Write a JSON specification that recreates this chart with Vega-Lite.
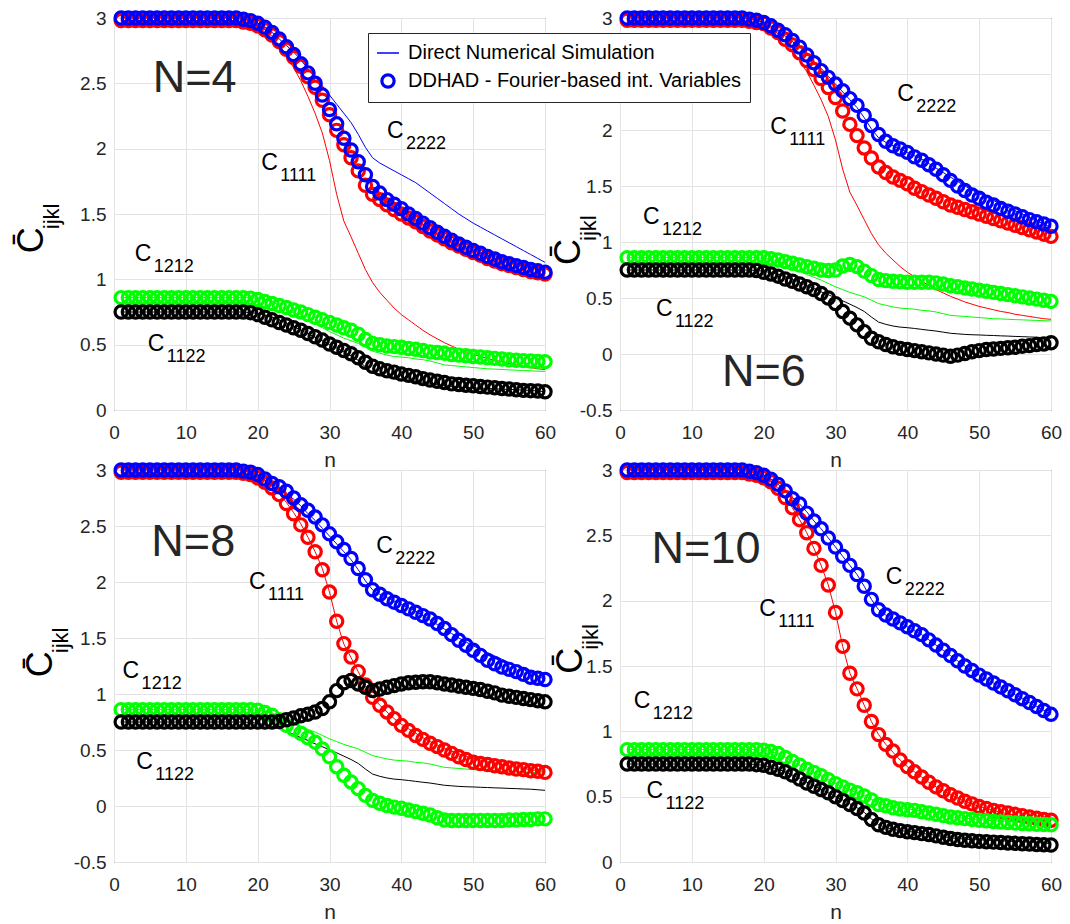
{
"$schema": "https://vega.github.io/schema/vega-lite/v6.json",
"background": "white",
"padding": {"left": 13, "top": 4, "right": 5, "bottom": 2},
"config": {
  "view": {"stroke": "#262626", "strokeWidth": 1},
  "axis": {"labelFont": "Liberation Sans", "labelFontSize": 19, "labelColor": "#262626", "titleFont": "Liberation Sans", "titleFontSize": 21, "titleFontWeight": "normal", "titleColor": "#262626", "gridColor": "#e3e3e3", "gridWidth": 1, "domain": false, "ticks": false, "labelFlush": false, "labelOverlap": false},
  "text": {"font": "Liberation Sans"}
},
"datasets": {
"dns": [
{"n":1,"a":2.98,"b":3,"c":0.86,"d":0.75},{"n":2,"a":2.98,"b":3,"c":0.86,"d":0.75},{"n":3,"a":2.98,"b":3,"c":0.86,"d":0.75},{"n":4,"a":2.98,"b":3,"c":0.86,"d":0.75},{"n":5,"a":2.98,"b":3,"c":0.86,"d":0.75},{"n":6,"a":2.98,"b":3,"c":0.86,"d":0.75},{"n":7,"a":2.98,"b":3,"c":0.86,"d":0.75},{"n":8,"a":2.98,"b":3,"c":0.86,"d":0.75},{"n":9,"a":2.98,"b":3,"c":0.86,"d":0.75},{"n":10,"a":2.98,"b":3,"c":0.86,"d":0.75},
{"n":11,"a":2.98,"b":3,"c":0.86,"d":0.75},{"n":12,"a":2.98,"b":3,"c":0.86,"d":0.75},{"n":13,"a":2.98,"b":3,"c":0.86,"d":0.75},{"n":14,"a":2.98,"b":3,"c":0.86,"d":0.75},{"n":15,"a":2.98,"b":3,"c":0.86,"d":0.75},{"n":16,"a":2.98,"b":3,"c":0.86,"d":0.75},{"n":17,"a":2.98,"b":3,"c":0.86,"d":0.75},{"n":18,"a":2.97,"b":2.99,"c":0.86,"d":0.75},{"n":19,"a":2.96,"b":2.98,"c":0.86,"d":0.745},{"n":20,"a":2.94,"b":2.96,"c":0.855,"d":0.74},
{"n":21,"a":2.91,"b":2.93,"c":0.845,"d":0.725},{"n":22,"a":2.86,"b":2.89,"c":0.83,"d":0.71},{"n":23,"a":2.79,"b":2.84,"c":0.8,"d":0.69},{"n":24,"a":2.71,"b":2.79,"c":0.77,"d":0.665},{"n":25,"a":2.62,"b":2.74,"c":0.74,"d":0.64},{"n":26,"a":2.52,"b":2.68,"c":0.71,"d":0.61},{"n":27,"a":2.4,"b":2.61,"c":0.685,"d":0.585},{"n":28,"a":2.27,"b":2.55,"c":0.66,"d":0.555},{"n":29,"a":2.12,"b":2.48,"c":0.63,"d":0.53},{"n":30,"a":1.91,"b":2.41,"c":0.6,"d":0.5},
{"n":31,"a":1.65,"b":2.34,"c":0.575,"d":0.475},{"n":32,"a":1.445,"b":2.27,"c":0.55,"d":0.445},{"n":33,"a":1.325,"b":2.2,"c":0.53,"d":0.415},{"n":34,"a":1.2,"b":2.11,"c":0.51,"d":0.38},{"n":35,"a":1.075,"b":2.01,"c":0.48,"d":0.33},{"n":36,"a":0.975,"b":1.93,"c":0.45,"d":0.285},{"n":37,"a":0.9,"b":1.89,"c":0.435,"d":0.265},{"n":38,"a":0.84,"b":1.86,"c":0.42,"d":0.25},{"n":39,"a":0.78,"b":1.83,"c":0.41,"d":0.24},{"n":40,"a":0.73,"b":1.8,"c":0.405,"d":0.235},
{"n":41,"a":0.69,"b":1.77,"c":0.4,"d":0.228},{"n":42,"a":0.65,"b":1.74,"c":0.39,"d":0.22},{"n":43,"a":0.61,"b":1.7,"c":0.385,"d":0.212},{"n":44,"a":0.575,"b":1.66,"c":0.375,"d":0.205},{"n":45,"a":0.545,"b":1.62,"c":0.36,"d":0.195},{"n":46,"a":0.515,"b":1.58,"c":0.345,"d":0.185},{"n":47,"a":0.49,"b":1.54,"c":0.34,"d":0.18},{"n":48,"a":0.465,"b":1.5,"c":0.335,"d":0.175},{"n":49,"a":0.445,"b":1.465,"c":0.33,"d":0.172},{"n":50,"a":0.425,"b":1.43,"c":0.325,"d":0.17},
{"n":51,"a":0.41,"b":1.4,"c":0.32,"d":0.167},{"n":52,"a":0.395,"b":1.37,"c":0.315,"d":0.165},{"n":53,"a":0.38,"b":1.34,"c":0.313,"d":0.162},{"n":54,"a":0.37,"b":1.31,"c":0.31,"d":0.16},{"n":55,"a":0.355,"b":1.28,"c":0.307,"d":0.157},{"n":56,"a":0.345,"b":1.25,"c":0.305,"d":0.155},{"n":57,"a":0.335,"b":1.22,"c":0.302,"d":0.152},{"n":58,"a":0.325,"b":1.19,"c":0.3,"d":0.15},{"n":59,"a":0.315,"b":1.16,"c":0.297,"d":0.145},{"n":60,"a":0.31,"b":1.13,"c":0.295,"d":0.14}
],
"n4": [
{"n":1,"a":2.98,"b":3,"c":0.86,"d":0.75},{"n":2,"a":2.98,"b":3,"c":0.86,"d":0.75},{"n":3,"a":2.98,"b":3,"c":0.86,"d":0.75},{"n":4,"a":2.98,"b":3,"c":0.86,"d":0.75},{"n":5,"a":2.98,"b":3,"c":0.86,"d":0.75},{"n":6,"a":2.98,"b":3,"c":0.86,"d":0.75},{"n":7,"a":2.98,"b":3,"c":0.86,"d":0.75},{"n":8,"a":2.98,"b":3,"c":0.86,"d":0.75},{"n":9,"a":2.98,"b":3,"c":0.86,"d":0.75},{"n":10,"a":2.98,"b":3,"c":0.86,"d":0.75},
{"n":11,"a":2.98,"b":3,"c":0.86,"d":0.75},{"n":12,"a":2.98,"b":3,"c":0.86,"d":0.75},{"n":13,"a":2.98,"b":3,"c":0.86,"d":0.75},{"n":14,"a":2.98,"b":3,"c":0.86,"d":0.75},{"n":15,"a":2.98,"b":3,"c":0.86,"d":0.75},{"n":16,"a":2.98,"b":3,"c":0.86,"d":0.75},{"n":17,"a":2.98,"b":3,"c":0.86,"d":0.75},{"n":18,"a":2.97,"b":2.99,"c":0.86,"d":0.75},{"n":19,"a":2.96,"b":2.98,"c":0.855,"d":0.745},{"n":20,"a":2.94,"b":2.96,"c":0.845,"d":0.73},
{"n":21,"a":2.91,"b":2.93,"c":0.83,"d":0.71},{"n":22,"a":2.87,"b":2.89,"c":0.815,"d":0.69},{"n":23,"a":2.82,"b":2.84,"c":0.8,"d":0.67},{"n":24,"a":2.76,"b":2.78,"c":0.785,"d":0.65},{"n":25,"a":2.7,"b":2.72,"c":0.765,"d":0.63},{"n":26,"a":2.63,"b":2.65,"c":0.75,"d":0.61},{"n":27,"a":2.55,"b":2.58,"c":0.73,"d":0.585},{"n":28,"a":2.47,"b":2.5,"c":0.71,"d":0.56},{"n":29,"a":2.37,"b":2.41,"c":0.69,"d":0.535},{"n":30,"a":2.26,"b":2.3,"c":0.67,"d":0.505},
{"n":31,"a":2.14,"b":2.19,"c":0.65,"d":0.48},{"n":32,"a":2.03,"b":2.08,"c":0.63,"d":0.455},{"n":33,"a":1.93,"b":1.99,"c":0.61,"d":0.43},{"n":34,"a":1.83,"b":1.9,"c":0.58,"d":0.4},{"n":35,"a":1.72,"b":1.8,"c":0.54,"d":0.365},{"n":36,"a":1.65,"b":1.71,"c":0.51,"d":0.335},{"n":37,"a":1.61,"b":1.66,"c":0.5,"d":0.315},{"n":38,"a":1.57,"b":1.61,"c":0.49,"d":0.3},{"n":39,"a":1.535,"b":1.575,"c":0.485,"d":0.29},{"n":40,"a":1.5,"b":1.54,"c":0.48,"d":0.275},
{"n":41,"a":1.47,"b":1.5,"c":0.47,"d":0.265},{"n":42,"a":1.44,"b":1.465,"c":0.465,"d":0.255},{"n":43,"a":1.405,"b":1.43,"c":0.455,"d":0.24},{"n":44,"a":1.37,"b":1.395,"c":0.445,"d":0.23},{"n":45,"a":1.34,"b":1.36,"c":0.44,"d":0.22},{"n":46,"a":1.31,"b":1.33,"c":0.435,"d":0.21},{"n":47,"a":1.28,"b":1.3,"c":0.425,"d":0.2},{"n":48,"a":1.255,"b":1.27,"c":0.42,"d":0.195},{"n":49,"a":1.23,"b":1.245,"c":0.415,"d":0.19},{"n":50,"a":1.205,"b":1.22,"c":0.41,"d":0.185},
{"n":51,"a":1.185,"b":1.2,"c":0.405,"d":0.18},{"n":52,"a":1.16,"b":1.175,"c":0.4,"d":0.175},{"n":53,"a":1.14,"b":1.155,"c":0.395,"d":0.17},{"n":54,"a":1.12,"b":1.135,"c":0.39,"d":0.165},{"n":55,"a":1.105,"b":1.12,"c":0.385,"d":0.16},{"n":56,"a":1.09,"b":1.105,"c":0.38,"d":0.155},{"n":57,"a":1.075,"b":1.09,"c":0.378,"d":0.15},{"n":58,"a":1.06,"b":1.075,"c":0.375,"d":0.148},{"n":59,"a":1.05,"b":1.065,"c":0.372,"d":0.145},{"n":60,"a":1.04,"b":1.055,"c":0.37,"d":0.14}
],
"n6": [
{"n":1,"a":2.98,"b":3,"c":0.86,"d":0.75},{"n":2,"a":2.98,"b":3,"c":0.86,"d":0.75},{"n":3,"a":2.98,"b":3,"c":0.86,"d":0.75},{"n":4,"a":2.98,"b":3,"c":0.86,"d":0.75},{"n":5,"a":2.98,"b":3,"c":0.86,"d":0.75},{"n":6,"a":2.98,"b":3,"c":0.86,"d":0.75},{"n":7,"a":2.98,"b":3,"c":0.86,"d":0.75},{"n":8,"a":2.98,"b":3,"c":0.86,"d":0.75},{"n":9,"a":2.98,"b":3,"c":0.86,"d":0.75},{"n":10,"a":2.98,"b":3,"c":0.86,"d":0.75},
{"n":11,"a":2.98,"b":3,"c":0.86,"d":0.75},{"n":12,"a":2.98,"b":3,"c":0.86,"d":0.75},{"n":13,"a":2.98,"b":3,"c":0.86,"d":0.75},{"n":14,"a":2.98,"b":3,"c":0.86,"d":0.75},{"n":15,"a":2.98,"b":3,"c":0.86,"d":0.75},{"n":16,"a":2.98,"b":3,"c":0.86,"d":0.75},{"n":17,"a":2.98,"b":3,"c":0.86,"d":0.75},{"n":18,"a":2.97,"b":2.99,"c":0.86,"d":0.75},{"n":19,"a":2.96,"b":2.98,"c":0.86,"d":0.745},{"n":20,"a":2.95,"b":2.96,"c":0.86,"d":0.73},
{"n":21,"a":2.91,"b":2.93,"c":0.85,"d":0.715},{"n":22,"a":2.87,"b":2.89,"c":0.84,"d":0.695},{"n":23,"a":2.81,"b":2.85,"c":0.825,"d":0.67},{"n":24,"a":2.76,"b":2.8,"c":0.81,"d":0.65},{"n":25,"a":2.69,"b":2.74,"c":0.795,"d":0.625},{"n":26,"a":2.62,"b":2.67,"c":0.78,"d":0.6},{"n":27,"a":2.54,"b":2.6,"c":0.765,"d":0.575},{"n":28,"a":2.46,"b":2.53,"c":0.75,"d":0.54},{"n":29,"a":2.38,"b":2.47,"c":0.745,"d":0.5},{"n":30,"a":2.29,"b":2.41,"c":0.75,"d":0.45},
{"n":31,"a":2.17,"b":2.35,"c":0.785,"d":0.38},{"n":32,"a":2.05,"b":2.28,"c":0.8,"d":0.32},{"n":33,"a":1.95,"b":2.22,"c":0.78,"d":0.26},{"n":34,"a":1.84,"b":2.13,"c":0.74,"d":0.2},{"n":35,"a":1.75,"b":2.04,"c":0.7,"d":0.14},{"n":36,"a":1.67,"b":1.96,"c":0.665,"d":0.11},{"n":37,"a":1.62,"b":1.9,"c":0.655,"d":0.085},{"n":38,"a":1.58,"b":1.86,"c":0.65,"d":0.065},{"n":39,"a":1.55,"b":1.83,"c":0.645,"d":0.05},{"n":40,"a":1.52,"b":1.8,"c":0.64,"d":0.04},
{"n":41,"a":1.48,"b":1.76,"c":0.64,"d":0.03},{"n":42,"a":1.45,"b":1.73,"c":0.64,"d":0.02},{"n":43,"a":1.42,"b":1.69,"c":0.64,"d":0.01},{"n":44,"a":1.39,"b":1.65,"c":0.635,"d":0},{"n":45,"a":1.36,"b":1.6,"c":0.625,"d":-0.01},{"n":46,"a":1.33,"b":1.55,"c":0.61,"d":-0.02},{"n":47,"a":1.31,"b":1.5,"c":0.6,"d":-0.01},{"n":48,"a":1.29,"b":1.46,"c":0.59,"d":0.005},{"n":49,"a":1.27,"b":1.42,"c":0.58,"d":0.02},{"n":50,"a":1.25,"b":1.39,"c":0.57,"d":0.03},
{"n":51,"a":1.23,"b":1.355,"c":0.56,"d":0.04},{"n":52,"a":1.21,"b":1.33,"c":0.55,"d":0.045},{"n":53,"a":1.19,"b":1.3,"c":0.54,"d":0.05},{"n":54,"a":1.17,"b":1.275,"c":0.53,"d":0.055},{"n":55,"a":1.15,"b":1.25,"c":0.52,"d":0.06},{"n":56,"a":1.13,"b":1.225,"c":0.51,"d":0.07},{"n":57,"a":1.11,"b":1.2,"c":0.5,"d":0.075},{"n":58,"a":1.09,"b":1.18,"c":0.49,"d":0.085},{"n":59,"a":1.07,"b":1.16,"c":0.48,"d":0.09},{"n":60,"a":1.05,"b":1.14,"c":0.47,"d":0.1}
],
"n8": [
{"n":1,"a":2.98,"b":3,"c":0.86,"d":0.75},{"n":2,"a":2.98,"b":3,"c":0.86,"d":0.75},{"n":3,"a":2.98,"b":3,"c":0.86,"d":0.75},{"n":4,"a":2.98,"b":3,"c":0.86,"d":0.75},{"n":5,"a":2.98,"b":3,"c":0.86,"d":0.75},{"n":6,"a":2.98,"b":3,"c":0.86,"d":0.75},{"n":7,"a":2.98,"b":3,"c":0.86,"d":0.75},{"n":8,"a":2.98,"b":3,"c":0.86,"d":0.75},{"n":9,"a":2.98,"b":3,"c":0.86,"d":0.75},{"n":10,"a":2.98,"b":3,"c":0.86,"d":0.75},
{"n":11,"a":2.98,"b":3,"c":0.86,"d":0.75},{"n":12,"a":2.98,"b":3,"c":0.86,"d":0.75},{"n":13,"a":2.98,"b":3,"c":0.86,"d":0.75},{"n":14,"a":2.98,"b":3,"c":0.86,"d":0.75},{"n":15,"a":2.98,"b":3,"c":0.86,"d":0.75},{"n":16,"a":2.98,"b":3,"c":0.86,"d":0.75},{"n":17,"a":2.98,"b":3,"c":0.86,"d":0.75},{"n":18,"a":2.97,"b":2.99,"c":0.86,"d":0.75},{"n":19,"a":2.96,"b":2.98,"c":0.86,"d":0.75},{"n":20,"a":2.93,"b":2.96,"c":0.855,"d":0.75},
{"n":21,"a":2.89,"b":2.92,"c":0.835,"d":0.75},{"n":22,"a":2.84,"b":2.88,"c":0.81,"d":0.75},{"n":23,"a":2.78,"b":2.85,"c":0.77,"d":0.755},{"n":24,"a":2.7,"b":2.81,"c":0.72,"d":0.77},{"n":25,"a":2.61,"b":2.75,"c":0.685,"d":0.785},{"n":26,"a":2.51,"b":2.69,"c":0.65,"d":0.805},{"n":27,"a":2.4,"b":2.64,"c":0.61,"d":0.82},{"n":28,"a":2.27,"b":2.58,"c":0.57,"d":0.84},{"n":29,"a":2.11,"b":2.51,"c":0.51,"d":0.87},{"n":30,"a":1.91,"b":2.43,"c":0.44,"d":0.93},
{"n":31,"a":1.65,"b":2.36,"c":0.35,"d":1.03},{"n":32,"a":1.45,"b":2.29,"c":0.275,"d":1.1},{"n":33,"a":1.33,"b":2.21,"c":0.215,"d":1.12},{"n":34,"a":1.2,"b":2.12,"c":0.155,"d":1.09},{"n":35,"a":1.08,"b":2.02,"c":0.095,"d":1.06},{"n":36,"a":0.97,"b":1.93,"c":0.05,"d":1.03},{"n":37,"a":0.9,"b":1.89,"c":0.025,"d":1.045},{"n":38,"a":0.84,"b":1.85,"c":0.005,"d":1.06},{"n":39,"a":0.78,"b":1.82,"c":-0.01,"d":1.075},{"n":40,"a":0.72,"b":1.79,"c":-0.02,"d":1.09},
{"n":41,"a":0.675,"b":1.76,"c":-0.035,"d":1.1},{"n":42,"a":0.63,"b":1.73,"c":-0.05,"d":1.105},{"n":43,"a":0.595,"b":1.7,"c":-0.065,"d":1.11},{"n":44,"a":0.56,"b":1.67,"c":-0.08,"d":1.11},{"n":45,"a":0.53,"b":1.63,"c":-0.105,"d":1.1},{"n":46,"a":0.5,"b":1.585,"c":-0.125,"d":1.09},{"n":47,"a":0.47,"b":1.53,"c":-0.13,"d":1.08},{"n":48,"a":0.44,"b":1.48,"c":-0.13,"d":1.07},{"n":49,"a":0.415,"b":1.435,"c":-0.13,"d":1.06},{"n":50,"a":0.39,"b":1.39,"c":-0.13,"d":1.05},
{"n":51,"a":0.38,"b":1.345,"c":-0.13,"d":1.04},{"n":52,"a":0.37,"b":1.3,"c":-0.13,"d":1.025},{"n":53,"a":0.36,"b":1.27,"c":-0.13,"d":1.01},{"n":54,"a":0.35,"b":1.24,"c":-0.13,"d":0.99},{"n":55,"a":0.34,"b":1.22,"c":-0.125,"d":0.98},{"n":56,"a":0.33,"b":1.2,"c":-0.125,"d":0.97},{"n":57,"a":0.325,"b":1.175,"c":-0.12,"d":0.96},{"n":58,"a":0.315,"b":1.15,"c":-0.12,"d":0.95},{"n":59,"a":0.31,"b":1.14,"c":-0.115,"d":0.94},{"n":60,"a":0.3,"b":1.13,"c":-0.115,"d":0.93}
],
"n10": [
{"n":1,"a":2.98,"b":3,"c":0.86,"d":0.75},{"n":2,"a":2.98,"b":3,"c":0.86,"d":0.75},{"n":3,"a":2.98,"b":3,"c":0.86,"d":0.75},{"n":4,"a":2.98,"b":3,"c":0.86,"d":0.75},{"n":5,"a":2.98,"b":3,"c":0.86,"d":0.75},{"n":6,"a":2.98,"b":3,"c":0.86,"d":0.75},{"n":7,"a":2.98,"b":3,"c":0.86,"d":0.75},{"n":8,"a":2.98,"b":3,"c":0.86,"d":0.75},{"n":9,"a":2.98,"b":3,"c":0.86,"d":0.75},{"n":10,"a":2.98,"b":3,"c":0.86,"d":0.75},
{"n":11,"a":2.98,"b":3,"c":0.86,"d":0.75},{"n":12,"a":2.98,"b":3,"c":0.86,"d":0.75},{"n":13,"a":2.98,"b":3,"c":0.86,"d":0.75},{"n":14,"a":2.98,"b":3,"c":0.86,"d":0.75},{"n":15,"a":2.98,"b":3,"c":0.86,"d":0.75},{"n":16,"a":2.98,"b":3,"c":0.86,"d":0.75},{"n":17,"a":2.98,"b":3,"c":0.86,"d":0.75},{"n":18,"a":2.97,"b":2.99,"c":0.86,"d":0.75},{"n":19,"a":2.96,"b":2.98,"c":0.86,"d":0.745},{"n":20,"a":2.94,"b":2.96,"c":0.855,"d":0.74},
{"n":21,"a":2.91,"b":2.93,"c":0.845,"d":0.725},{"n":22,"a":2.86,"b":2.89,"c":0.83,"d":0.71},{"n":23,"a":2.79,"b":2.84,"c":0.8,"d":0.69},{"n":24,"a":2.71,"b":2.78,"c":0.77,"d":0.665},{"n":25,"a":2.62,"b":2.74,"c":0.74,"d":0.635},{"n":26,"a":2.52,"b":2.67,"c":0.71,"d":0.605},{"n":27,"a":2.4,"b":2.61,"c":0.685,"d":0.58},{"n":28,"a":2.27,"b":2.55,"c":0.66,"d":0.555},{"n":29,"a":2.12,"b":2.48,"c":0.63,"d":0.53},{"n":30,"a":1.91,"b":2.41,"c":0.6,"d":0.5},
{"n":31,"a":1.65,"b":2.34,"c":0.575,"d":0.47},{"n":32,"a":1.445,"b":2.27,"c":0.55,"d":0.44},{"n":33,"a":1.325,"b":2.2,"c":0.53,"d":0.41},{"n":34,"a":1.2,"b":2.11,"c":0.505,"d":0.375},{"n":35,"a":1.075,"b":2.01,"c":0.475,"d":0.325},{"n":36,"a":0.975,"b":1.93,"c":0.44,"d":0.285},{"n":37,"a":0.9,"b":1.89,"c":0.43,"d":0.265},{"n":38,"a":0.85,"b":1.86,"c":0.415,"d":0.25},{"n":39,"a":0.78,"b":1.83,"c":0.405,"d":0.24},{"n":40,"a":0.73,"b":1.8,"c":0.4,"d":0.232},
{"n":41,"a":0.69,"b":1.77,"c":0.395,"d":0.225},{"n":42,"a":0.65,"b":1.74,"c":0.385,"d":0.217},{"n":43,"a":0.61,"b":1.7,"c":0.375,"d":0.21},{"n":44,"a":0.575,"b":1.66,"c":0.365,"d":0.2},{"n":45,"a":0.545,"b":1.62,"c":0.355,"d":0.19},{"n":46,"a":0.515,"b":1.58,"c":0.345,"d":0.18},{"n":47,"a":0.49,"b":1.54,"c":0.338,"d":0.172},{"n":48,"a":0.465,"b":1.5,"c":0.332,"d":0.166},{"n":49,"a":0.445,"b":1.465,"c":0.326,"d":0.162},{"n":50,"a":0.425,"b":1.43,"c":0.32,"d":0.158},
{"n":51,"a":0.41,"b":1.4,"c":0.315,"d":0.155},{"n":52,"a":0.395,"b":1.37,"c":0.31,"d":0.152},{"n":53,"a":0.385,"b":1.34,"c":0.306,"d":0.149},{"n":54,"a":0.375,"b":1.31,"c":0.302,"d":0.146},{"n":55,"a":0.365,"b":1.28,"c":0.298,"d":0.143},{"n":56,"a":0.355,"b":1.25,"c":0.295,"d":0.14},{"n":57,"a":0.345,"b":1.22,"c":0.292,"d":0.137},{"n":58,"a":0.335,"b":1.19,"c":0.289,"d":0.134},{"n":59,"a":0.325,"b":1.16,"c":0.287,"d":0.132},{"n":60,"a":0.32,"b":1.13,"c":0.285,"d":0.13}
]
},
"columns": 2,
"spacing": {"row": 60, "column": 75},
"bounds": "flush",
"concat": [
{
 "width": 431, "height": 392,
 "encoding": {
  "x": {"field": "n", "type": "quantitative", "scale": {"domain": [0, 60], "nice": false, "zero": false}, "axis": {"values": [0,10,20,30,40,50,60], "title": "n", "labelPadding": 13, "titlePadding": 7}},
  "y": {"field": "v", "type": "quantitative", "scale": {"domain": [0, 3], "nice": false, "zero": false}, "axis": {"values": [0,0.5,1,1.5,2,2.5,3], "labelExpr": "datum.value + ''", "title": null, "labelPadding": 8}}
 },
 "layer": [
  {"data": {"name": "dns"}, "transform": [{"fold": ["a","b","c","d"], "as": ["k","v"]}],
   "mark": {"type": "line", "strokeWidth": 1},
   "encoding": {"color": {"field": "k", "type": "nominal", "scale": {"domain": ["a","b","c","d"], "range": ["#ff0000","#0000ff","#00ff00","#000000"]}, "legend": null}}},
  {"data": {"name": "n4"}, "transform": [{"fold": ["a","b","c","d"], "as": ["k","v"]}],
   "mark": {"type": "point", "filled": false, "opacity": 1},
   "encoding": {"color": {"field": "k", "type": "nominal", "legend": null}, "order": {"field": "k", "type": "ordinal"},
    "shape": {"datum": "DDHAD - Fourier-based int. Variables", "type": "nominal",
     "scale": {"domain": ["Direct Numerical Simulation", "DDHAD - Fourier-based int. Variables"], "range": ["stroke", "circle"]},
     "legend": {"orient": "none", "legendX": 254, "legendY": 15, "title": null, "labelFont": "Liberation Sans", "labelFontSize": 20, "labelColor": "#000000", "labelLimit": 600, "fillColor": "white", "strokeColor": "#262626", "padding": 8, "rowPadding": 5, "labelOffset": 8, "symbolStrokeColor": "#0000ff", "symbolFillColor": "transparent"}},
    "size": {"datum": "DDHAD - Fourier-based int. Variables", "type": "nominal",
     "scale": {"domain": ["Direct Numerical Simulation", "DDHAD - Fourier-based int. Variables"], "range": [484, 150]},
     "legend": {"orient": "none", "legendX": 254, "legendY": 15, "title": null, "labelFont": "Liberation Sans", "labelFontSize": 20, "labelColor": "#000000", "labelLimit": 600, "fillColor": "white", "strokeColor": "#262626", "padding": 8, "rowPadding": 5, "labelOffset": 8, "symbolStrokeColor": "#0000ff", "symbolFillColor": "transparent"}},
    "strokeWidth": {"datum": "DDHAD - Fourier-based int. Variables", "type": "nominal",
     "scale": {"domain": ["Direct Numerical Simulation", "DDHAD - Fourier-based int. Variables"], "range": [1.5, 3.2]},
     "legend": {"orient": "none", "legendX": 254, "legendY": 15, "title": null, "labelFont": "Liberation Sans", "labelFontSize": 20, "labelColor": "#000000", "labelLimit": 600, "fillColor": "white", "strokeColor": "#262626", "padding": 8, "rowPadding": 5, "labelOffset": 8, "symbolStrokeColor": "#0000ff", "symbolFillColor": "transparent"}}}},
  {"data": {"values": [{"n": 5.4, "v": 2.43, "t": "N=4"}]}, "mark": {"type": "text", "fontSize": 45, "align": "left", "baseline": "alphabetic", "color": "#262626"}, "encoding": {"text": {"field": "t"}}},
  {"data": {"values": [{"n": 20.5, "v": 1.84, "s": "1111"}, {"n": 38.0, "v": 2.08, "s": "2222"}, {"n": 2.9, "v": 1.14, "s": "1212"}, {"n": 4.7, "v": 0.45, "s": "1122"}]},
   "layer": [
    {"mark": {"type": "text", "text": "C", "fontSize": 23, "align": "left", "baseline": "alphabetic", "color": "#000000"}},
    {"mark": {"type": "text", "fontSize": 18, "align": "left", "baseline": "alphabetic", "color": "#000000", "dx": 19, "dy": 11}, "encoding": {"text": {"field": "s"}}}
   ]},
  {"data": {"values": [{"n": -9.9, "v": 1.2}]},
   "layer": [
    {"mark": {"type": "text", "text": "C\u0304", "fontSize": 36, "angle": 270, "align": "left", "baseline": "alphabetic", "color": "#000000"}},
    {"mark": {"type": "text", "text": "ijkl", "fontSize": 22, "angle": 270, "align": "left", "baseline": "alphabetic", "color": "#000000", "dx": 24, "dy": 16}}
   ]}
 ]
},
{
 "width": 431, "height": 392,
 "encoding": {
  "x": {"field": "n", "type": "quantitative", "scale": {"domain": [0, 60], "nice": false, "zero": false}, "axis": {"values": [0,10,20,30,40,50,60], "title": "n", "labelPadding": 13, "titlePadding": 7}},
  "y": {"field": "v", "type": "quantitative", "scale": {"domain": [-0.5, 3], "nice": false, "zero": false}, "axis": {"values": [-0.5,0,0.5,1,1.5,2,2.5,3], "labelExpr": "datum.value + ''", "title": null, "labelPadding": 8}}
 },
 "layer": [
  {"data": {"name": "dns"}, "transform": [{"fold": ["a","b","c","d"], "as": ["k","v"]}],
   "mark": {"type": "line", "strokeWidth": 1},
   "encoding": {"color": {"field": "k", "type": "nominal", "scale": {"domain": ["a","b","c","d"], "range": ["#ff0000","#0000ff","#00ff00","#000000"]}, "legend": null}}},
  {"data": {"name": "n6"}, "transform": [{"fold": ["a","b","c","d"], "as": ["k","v"]}],
   "mark": {"type": "point", "filled": false, "size": 150, "strokeWidth": 3.2, "opacity": 1},
   "encoding": {"color": {"field": "k", "type": "nominal", "legend": null}, "order": {"field": "k", "type": "ordinal"}}},
  {"data": {"values": [{"n": 14.2, "v": -0.29, "t": "N=6"}]}, "mark": {"type": "text", "fontSize": 45, "align": "left", "baseline": "alphabetic", "color": "#262626"}, "encoding": {"text": {"field": "t"}}},
  {"data": {"values": [{"n": 20.9, "v": 1.96, "s": "1111"}, {"n": 38.6, "v": 2.26, "s": "2222"}, {"n": 3.2, "v": 1.16, "s": "1212"}, {"n": 5.0, "v": 0.34, "s": "1122"}]},
   "layer": [
    {"mark": {"type": "text", "text": "C", "fontSize": 23, "align": "left", "baseline": "alphabetic", "color": "#000000"}},
    {"mark": {"type": "text", "fontSize": 18, "align": "left", "baseline": "alphabetic", "color": "#000000", "dx": 19, "dy": 11}, "encoding": {"text": {"field": "s"}}}
   ]},
  {"data": {"values": [{"n": -5.6, "v": 0.795}]},
   "layer": [
    {"mark": {"type": "text", "text": "C\u0304", "fontSize": 36, "angle": 270, "align": "left", "baseline": "alphabetic", "color": "#000000"}},
    {"mark": {"type": "text", "text": "ijkl", "fontSize": 22, "angle": 270, "align": "left", "baseline": "alphabetic", "color": "#000000", "dx": 24, "dy": 16}}
   ]}
 ]
},
{
 "width": 431, "height": 392,
 "encoding": {
  "x": {"field": "n", "type": "quantitative", "scale": {"domain": [0, 60], "nice": false, "zero": false}, "axis": {"values": [0,10,20,30,40,50,60], "title": "n", "labelPadding": 13, "titlePadding": 7}},
  "y": {"field": "v", "type": "quantitative", "scale": {"domain": [-0.5, 3], "nice": false, "zero": false}, "axis": {"values": [-0.5,0,0.5,1,1.5,2,2.5,3], "labelExpr": "datum.value + ''", "title": null, "labelPadding": 8}}
 },
 "layer": [
  {"data": {"name": "dns"}, "transform": [{"fold": ["a","b","c","d"], "as": ["k","v"]}],
   "mark": {"type": "line", "strokeWidth": 1},
   "encoding": {"color": {"field": "k", "type": "nominal", "scale": {"domain": ["a","b","c","d"], "range": ["#ff0000","#0000ff","#00ff00","#000000"]}, "legend": null}}},
  {"data": {"name": "n8"}, "transform": [{"fold": ["a","b","c","d"], "as": ["k","v"]}],
   "mark": {"type": "point", "filled": false, "size": 150, "strokeWidth": 3.2, "opacity": 1},
   "encoding": {"color": {"field": "k", "type": "nominal", "legend": null}, "order": {"field": "k", "type": "ordinal"}}},
  {"data": {"values": [{"n": 5.2, "v": 2.23, "t": "N=8"}]}, "mark": {"type": "text", "fontSize": 45, "align": "left", "baseline": "alphabetic", "color": "#262626"}, "encoding": {"text": {"field": "t"}}},
  {"data": {"values": [{"n": 18.8, "v": 1.94, "s": "1111"}, {"n": 36.5, "v": 2.26, "s": "2222"}, {"n": 1.2, "v": 1.14, "s": "1212"}, {"n": 3.1, "v": 0.33, "s": "1122"}]},
   "layer": [
    {"mark": {"type": "text", "text": "C", "fontSize": 23, "align": "left", "baseline": "alphabetic", "color": "#000000"}},
    {"mark": {"type": "text", "fontSize": 18, "align": "left", "baseline": "alphabetic", "color": "#000000", "dx": 19, "dy": 11}, "encoding": {"text": {"field": "s"}}}
   ]},
  {"data": {"values": [{"n": -8.6, "v": 1.15}]},
   "layer": [
    {"mark": {"type": "text", "text": "C\u0304", "fontSize": 36, "angle": 270, "align": "left", "baseline": "alphabetic", "color": "#000000"}},
    {"mark": {"type": "text", "text": "ijkl", "fontSize": 22, "angle": 270, "align": "left", "baseline": "alphabetic", "color": "#000000", "dx": 24, "dy": 16}}
   ]}
 ]
},
{
 "width": 431, "height": 392,
 "encoding": {
  "x": {"field": "n", "type": "quantitative", "scale": {"domain": [0, 60], "nice": false, "zero": false}, "axis": {"values": [0,10,20,30,40,50,60], "title": "n", "labelPadding": 13, "titlePadding": 7}},
  "y": {"field": "v", "type": "quantitative", "scale": {"domain": [0, 3], "nice": false, "zero": false}, "axis": {"values": [0,0.5,1,1.5,2,2.5,3], "labelExpr": "datum.value + ''", "title": null, "labelPadding": 8}}
 },
 "layer": [
  {"data": {"name": "dns"}, "transform": [{"fold": ["a","b","c","d"], "as": ["k","v"]}],
   "mark": {"type": "line", "strokeWidth": 1},
   "encoding": {"color": {"field": "k", "type": "nominal", "scale": {"domain": ["a","b","c","d"], "range": ["#ff0000","#0000ff","#00ff00","#000000"]}, "legend": null}}},
  {"data": {"name": "n10"}, "transform": [{"fold": ["a","b","c","d"], "as": ["k","v"]}],
   "mark": {"type": "point", "filled": false, "size": 150, "strokeWidth": 3.2, "opacity": 1},
   "encoding": {"color": {"field": "k", "type": "nominal", "legend": null}, "order": {"field": "k", "type": "ordinal"}}},
  {"data": {"values": [{"n": 4.4, "v": 2.29, "t": "N=10"}]}, "mark": {"type": "text", "fontSize": 45, "align": "left", "baseline": "alphabetic", "color": "#262626"}, "encoding": {"text": {"field": "t"}}},
  {"data": {"values": [{"n": 19.4, "v": 1.88, "s": "1111"}, {"n": 37.0, "v": 2.13, "s": "2222"}, {"n": 1.9, "v": 1.18, "s": "1212"}, {"n": 3.7, "v": 0.49, "s": "1122"}]},
   "layer": [
    {"mark": {"type": "text", "text": "C", "fontSize": 23, "align": "left", "baseline": "alphabetic", "color": "#000000"}},
    {"mark": {"type": "text", "fontSize": 18, "align": "left", "baseline": "alphabetic", "color": "#000000", "dx": 19, "dy": 11}, "encoding": {"text": {"field": "s"}}}
   ]},
  {"data": {"values": [{"n": -5.3, "v": 1.44}]},
   "layer": [
    {"mark": {"type": "text", "text": "C\u0304", "fontSize": 36, "angle": 270, "align": "left", "baseline": "alphabetic", "color": "#000000"}},
    {"mark": {"type": "text", "text": "ijkl", "fontSize": 22, "angle": 270, "align": "left", "baseline": "alphabetic", "color": "#000000", "dx": 24, "dy": 16}}
   ]}
 ]
}
]
}
